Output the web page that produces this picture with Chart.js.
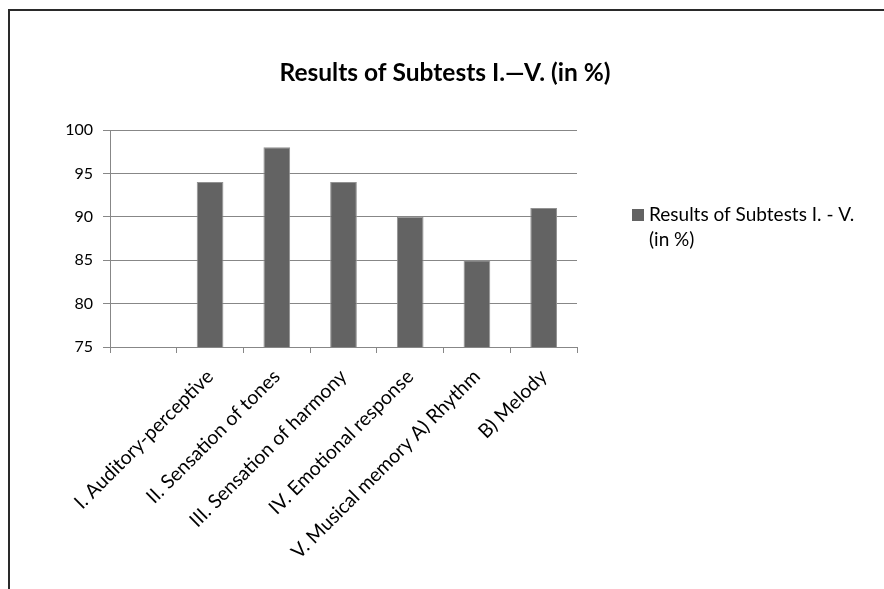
<!DOCTYPE html>
<html>
<head>
<meta charset="utf-8">
<script src="https://cdn.jsdelivr.net/npm/chart.js@4"></script>
<style>
  html, body { margin: 0; padding: 0; background: #fff; overflow: hidden; }
  #wrap { position: relative; width: 884px; height: 589px; }
  #frame { position: absolute; left: 8px; top: 9px; width: 900px; height: 600px;
           border-top: 2px solid #2a2a2a; border-left: 2px solid #2a2a2a; }
  canvas { position: absolute; left: 0; top: 0; }
</style>
</head>
<body>
<div id="wrap">
  <div id="frame"></div>
  <canvas id="c" width="884" height="589"></canvas>
</div>
<script>
const chartTitle = 'Results of Subtests I.\u2014V. (in %)';
const seriesName = 'Results of Subtests I. - V. (in %)';
const legendLines = ['Results of Subtests I. - V.', '(in %)'];
const categories = [
  '',
  'I. Auditory-perceptive',
  'II. Sensation of tones',
  'III. Sensation of harmony',
  'IV. Emotional response',
  'V. Musical memory A) Rhythm',
  'B) Melody'
];
const scores = [null, 94, 98, 94, 90, 85, 91];
const yTicks = [75, 80, 85, 90, 95, 100];

const FONT = 'Lato, "Open Sans", sans-serif';
const GRID = '#878787';
const BAR = '#636363';

// Title centred over the whole figure, and the legend on the right
// with the series name wrapped over two lines
const decorations = {
  id: 'decorations',
  afterDraw(chart) {
    const ctx = chart.ctx;
    ctx.save();
    ctx.fillStyle = '#000';
    ctx.font = 'bold 24.5px ' + FONT;
    ctx.textAlign = 'center';
    ctx.textBaseline = 'middle';
    ctx.fillText(chartTitle, 445, 73);

    ctx.fillStyle = BAR;
    ctx.fillRect(632, 209, 12, 12);
    ctx.fillStyle = '#000';
    ctx.font = '19px ' + FONT;
    ctx.textAlign = 'left';
    legendLines.forEach((t, i) => ctx.fillText(t, 649, 215 + i * 25));
    ctx.restore();
  }
};

new Chart(document.getElementById('c'), {
  type: 'bar',
  data: {
    labels: categories,
    datasets: [{
      label: seriesName,
      data: scores,
      backgroundColor: BAR,
      borderColor: '#929292',
      borderWidth: 1,
      barPercentage: 0.4,
      categoryPercentage: 1.0
    }]
  },
  options: {
    responsive: false,
    animation: false,
    events: [],
    layout: { padding: { left: 0, top: 130, right: 307, bottom: 0 } },
    plugins: {
      legend: { display: false },
      tooltip: { enabled: false },
      title: { display: false }
    },
    scales: {
      x: {
        offset: true,
        grid: {
          offset: true,
          drawOnChartArea: false,
          drawTicks: true,
          tickLength: 6,
          color: GRID
        },
        border: { color: GRID, width: 1 },
        ticks: {
          autoSkip: false,
          minRotation: 45,
          maxRotation: 45,
          padding: 12,
          color: '#000',
          font: { family: FONT, size: 19.5 }
        },
        afterFit(scale) { scale.height = 589 - 347; }
      },
      y: {
        min: 75,
        max: 100,
        afterBuildTicks(scale) { scale.ticks = yTicks.map(v => ({ value: v })); },
        grid: { color: GRID, tickLength: 7, drawTicks: true },
        border: { color: GRID, width: 1 },
        ticks: {
          padding: 10,
          color: '#000',
          font: { family: FONT, size: 16 }
        },
        afterFit(scale) { scale.width = 110; }
      }
    }
  },
  plugins: [decorations]
});
</script>
</body>
</html>
